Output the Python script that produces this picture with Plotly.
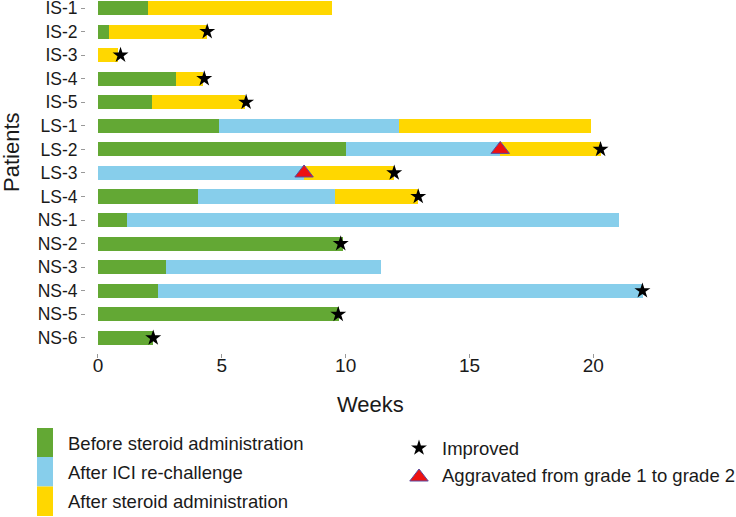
import plotly.graph_objects as go

# ---------------- data ----------------
patients = ["IS-1", "IS-2", "IS-3", "IS-4", "IS-5",
            "LS-1", "LS-2", "LS-3", "LS-4",
            "NS-1", "NS-2", "NS-3", "NS-4", "NS-5", "NS-6"]
before_steroid = [2.02, 0.44, 0.0, 3.15, 2.17, 4.87, 10.02, 0.0, 4.03, 1.16, 9.88, 2.73, 2.44, 9.72, 2.24]
after_ici = [0.0, 0.0, 0.0, 0.0, 0.0, 7.30, 6.22, 8.32, 5.55, 19.86, 0.0, 8.70, 19.56, 0.0, 0.0]
after_steroid = [7.43, 3.96, 0.80, 1.08, 3.78, 7.73, 4.06, 3.64, 3.35, 0.0, 0.0, 0.0, 0.0, 0.0, 0.0]

improved_patients = ["IS-2", "IS-3", "IS-4", "IS-5", "LS-2", "LS-3", "LS-4", "NS-2", "NS-4", "NS-5", "NS-6"]
improved_weeks = [4.41, 0.91, 4.29, 5.98, 20.29, 11.96, 12.93, 9.80, 21.98, 9.70, 2.23]

aggravated_patients = ["LS-2", "LS-3"]
aggravated_weeks = [16.24, 8.32]

x_ticks = [0, 5, 10, 15, 20]
bar_legend_labels = ["Before steroid administration", "After ICI re-challenge", "After steroid administration"]
marker_legend_labels = ["Improved", "Aggravated from grade 1 to grade 2"]

# ---------------- style ----------------
W, H = 736, 517
GREEN, BLUE, YELLOW = "#63a834", "#87ceeb", "#ffd700"
FONT = "Liberation Sans, Arial, sans-serif"
TXT = "#1a1a1a"

fig = go.Figure()
for vals, col, name in zip([before_steroid, after_ici, after_steroid],
                           [GREEN, BLUE, YELLOW], bar_legend_labels):
    fig.add_trace(go.Bar(x=vals, y=patients, orientation="h", name=name,
                         marker=dict(color=col, line=dict(width=0)),
                         width=0.6, showlegend=False))

fig.add_trace(go.Scatter(x=aggravated_weeks, y=aggravated_patients, mode="markers",
                         marker=dict(symbol="triangle-up", size=16, color="#ee1111",
                                     line=dict(color="#5a4aa0", width=1)),
                         showlegend=False, name=marker_legend_labels[1]))
fig.add_trace(go.Scatter(x=improved_weeks, y=improved_patients, mode="markers",
                         marker=dict(symbol="star", size=12, color="black",
                                     line=dict(width=0)),
                         showlegend=False, name=marker_legend_labels[0]))

# legend markers on a full-figure pixel overlay axis
fig.add_trace(go.Scatter(x=[419], y=[448], xaxis="x2", yaxis="y2", mode="markers",
                         marker=dict(symbol="star", size=12, color="black"),
                         showlegend=False, hoverinfo="skip"))
fig.add_trace(go.Scatter(x=[419], y=[477], xaxis="x2", yaxis="y2", mode="markers",
                         marker=dict(symbol="triangle-up", size=16, color="#ee1111",
                                     line=dict(color="#5a4aa0", width=1)),
                         showlegend=False, hoverinfo="skip"))

shapes = []
annotations = []
sw_top = [428, 457, 486.5]
for i, (col, lab) in enumerate(zip([GREEN, BLUE, YELLOW], bar_legend_labels)):
    shapes.append(dict(type="rect", xref="x2", yref="y2", x0=37, x1=53,
                       y0=sw_top[i], y1=sw_top[i] + 29.5, fillcolor=col, line=dict(width=0)))
    annotations.append(dict(xref="x2", yref="y2", x=66, y=sw_top[i] + 15, text=lab,
                            showarrow=False, xanchor="left", yanchor="middle",
                            font=dict(family=FONT, size=18.5, color=TXT)))
for lab, yy in zip(marker_legend_labels, [448, 475]):
    annotations.append(dict(xref="x2", yref="y2", x=440, y=yy, text=lab,
                            showarrow=False, xanchor="left", yanchor="middle",
                            font=dict(family=FONT, size=18.5, color=TXT)))
annotations.append(dict(xref="x2", yref="y2", x=370, y=404, text="Weeks",
                        showarrow=False, xanchor="center", yanchor="middle",
                        font=dict(family=FONT, size=22, color=TXT)))
annotations.append(dict(xref="x2", yref="y2", x=11, y=152, text="Patients", textangle=-90,
                        showarrow=False, xanchor="center", yanchor="middle",
                        font=dict(family=FONT, size=22, color=TXT)))

fig.update_layout(
    width=W, height=H,
    margin=dict(l=0, r=0, t=0, b=0),
    paper_bgcolor="white", plot_bgcolor="rgba(0,0,0,0)",
    barmode="stack", bargap=0.4,
    shapes=shapes, annotations=annotations,
    xaxis=dict(domain=[86 / W, 660 / W], range=[-0.484, 22.69],
               tickvals=x_ticks, ticktext=[str(t) for t in x_ticks],
               ticks="outside", ticklen=4, tickcolor="#999999", tickwidth=1,
               ticklabelstandoff=-9,
               showgrid=False, zeroline=False, showline=False,
               tickfont=dict(family=FONT, size=19, color=TXT), automargin=False),
    yaxis=dict(domain=[1 - 353 / H, 1], type="category", categoryorder="array",
               categoryarray=patients, range=[14.64, -0.34],
               ticks="outside", ticklen=4, tickcolor="#999999", tickwidth=1,
               showgrid=False, zeroline=False, showline=False,
               tickfont=dict(family=FONT, size=17.5, color=TXT), automargin=False),
    xaxis2=dict(domain=[0, 1], range=[0, W], visible=False, anchor="y2", fixedrange=True),
    yaxis2=dict(domain=[0, 1], range=[H, 0], visible=False, anchor="x2", fixedrange=True),
    showlegend=False,
)

fig.write_html("out.html", config={"displayModeBar": False},
               post_script="document.body.style.margin='0';")
